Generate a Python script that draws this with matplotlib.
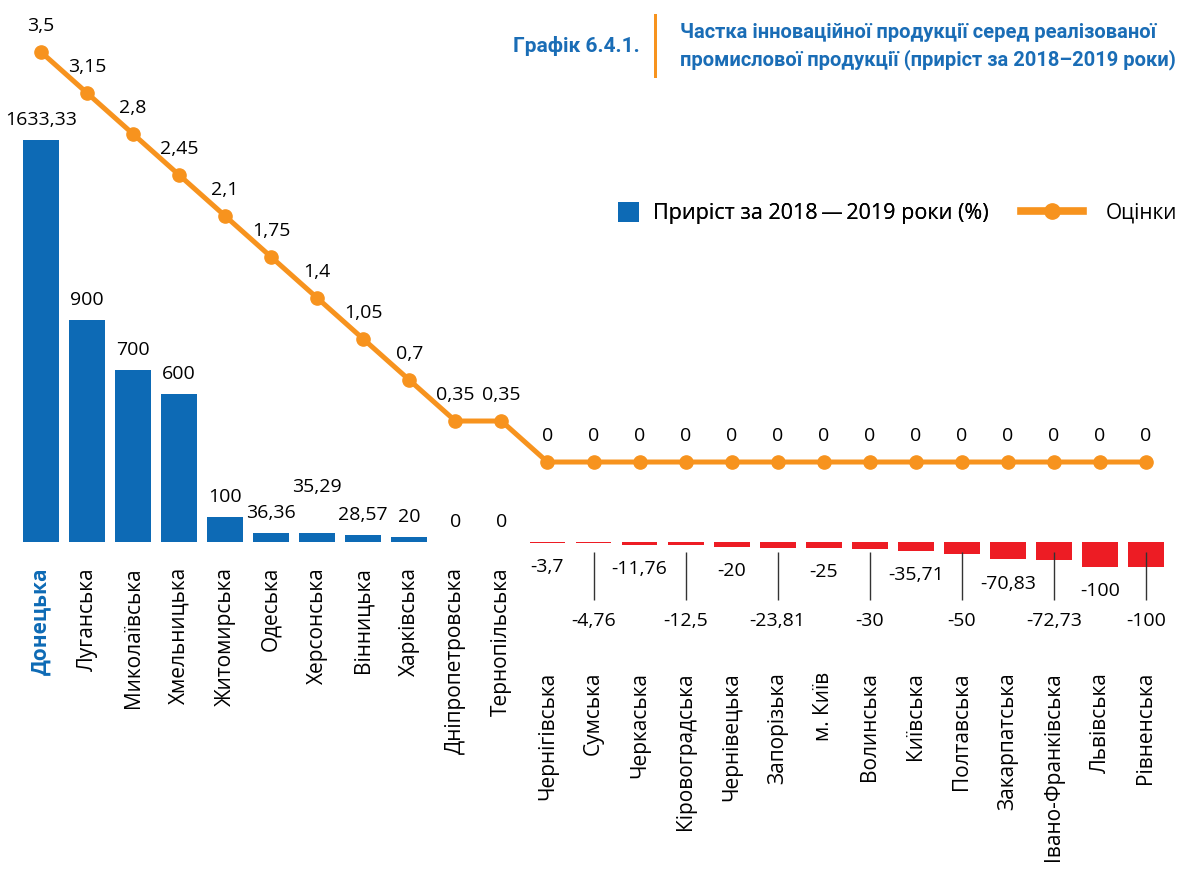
import matplotlib.pyplot as plt
from matplotlib.patches import Rectangle

# data
regions = ["Донецька", "Луганська", "Миколаївська", "Хмельницька", "Житомирська",
           "Одеська", "Херсонська", "Вінницька", "Харківська", "Дніпропетровська",
           "Тернопільська", "Чернігівська", "Сумська", "Черкаська", "Кіровоградська",
           "Чернівецька", "Запорізька", "м. Київ", "Волинська", "Київська",
           "Полтавська", "Закарпатська", "Івано-Франківська", "Львівська", "Рівненська"]
growth = [1633.33, 900, 700, 600, 100, 36.36, 35.29, 28.57, 20, 0, 0,
          -3.7, -4.76, -11.76, -12.5, -20, -23.81, -25, -30, -35.71, -50,
          -70.83, -72.73, -100, -100]
scores = [3.5, 3.15, 2.8, 2.45, 2.1, 1.75, 1.4, 1.05, 0.7, 0.35, 0.35,
          0, 0, 0, 0, 0, 0, 0, 0, 0, 0, 0, 0, 0, 0]

BLUE = "#0d6ab5"
RED = "#ed1c24"
ORANGE = "#f7931e"
TITLE_BLUE = "#1a6db6"

plt.rcParams['font.family'] = ['Open Sans', 'DejaVu Sans']


def fmt(v):
    return f"{v:g}".replace('.', ',')


fig = plt.figure(figsize=(11.84, 8.76), dpi=100)
ax = fig.add_axes([18 / 1184, 0, 1151 / 1184, 1])
ax.set_xlim(-0.5, len(regions) - 0.5)
ax.set_ylim(-1356.6, 2201.5)
ax.axis('off')

x = list(range(len(regions)))
colors = [BLUE if v >= 0 else RED for v in growth]
bars = ax.bar(x, growth, width=0.78, color=colors,
              label="Приріст за 2018\u2009\u2014\u20092019 роки (%)")

# bar value labels
neg_i = 0
for i, v in enumerate(growth):
    if v >= 0:
        off = 8 if i != 6 else 27
        ax.annotate(fmt(v), (i, v), xytext=(0, off), textcoords='offset points',
                    ha='center', va='bottom', fontsize=14)
    else:
        if neg_i % 2 == 0:
            ax.annotate(fmt(v), (i, v), xytext=(0, -11), textcoords='offset points',
                        ha='center', va='top', fontsize=14)
        else:
            ax.vlines(i, -40, -235, color='#333333', lw=1)
            ax.text(i, -320, fmt(v), ha='center', va='center', fontsize=14)
        neg_i += 1

# category labels
for i, name in enumerate(regions):
    ytop = -102 if growth[i] >= 0 else -528
    if i == 0:
        ax.text(i, ytop, name, rotation=90, ha='center', va='top', fontsize=15,
                color=BLUE, fontweight='bold')
    else:
        ax.text(i, ytop, name, rotation=90, ha='center', va='top', fontsize=15)

# line on twin axis
ax2 = ax.twinx()
ax2.set_ylim(-3.534, 3.944)
ax2.axis('off')
line, = ax2.plot(x, scores, color=ORANGE, lw=3.6, marker='o', markersize=9.5, label="Оцінки")
for i, v in enumerate(scores):
    ax2.annotate(fmt(v), (i, v), xytext=(0, 12), textcoords='offset points',
                 ha='center', va='bottom', fontsize=14)

# legends
leg1 = fig.legend(handles=[bars], loc='center left', bbox_to_anchor=(599 / 1184, 1 - 213 / 876),
                  frameon=False, fontsize=15.5, handlelength=0.95, handleheight=1.1,
                  handletextpad=0.65)
fig.add_artist(leg1)
leg2 = fig.legend(handles=[line], loc='center left', bbox_to_anchor=(1002 / 1184, 1 - 213 / 876),
                  frameon=False, fontsize=15, handlelength=3.0, handletextpad=1.1, numpoints=1)
leg2.get_lines()[0].set_linewidth(5.5)
leg2.get_lines()[0].set_markersize(11)

# title block
fig.text(640 / 1184, 1 - 46 / 876, "Графік 6.4.1.", ha='right', va='center',
         fontsize=15, fontweight='bold', color=TITLE_BLUE, family='Roboto')
fig.add_artist(Rectangle((654 / 1184, 1 - 78 / 876), 3 / 1184, 64 / 876,
                         transform=fig.transFigure, color=ORANGE, lw=0))
fig.text(680 / 1184, 1 - 33 / 876, "Частка інноваційної продукції серед реалізованої",
         ha='left', va='center', fontsize=14.5, fontweight='bold', color=TITLE_BLUE, family='Roboto')
fig.text(680 / 1184, 1 - 60 / 876, "промислової продукції (приріст за 2018\u20132019 роки)",
         ha='left', va='center', fontsize=14.5, fontweight='bold', color=TITLE_BLUE, family='Roboto')

fig.savefig("out.png", dpi=100)
